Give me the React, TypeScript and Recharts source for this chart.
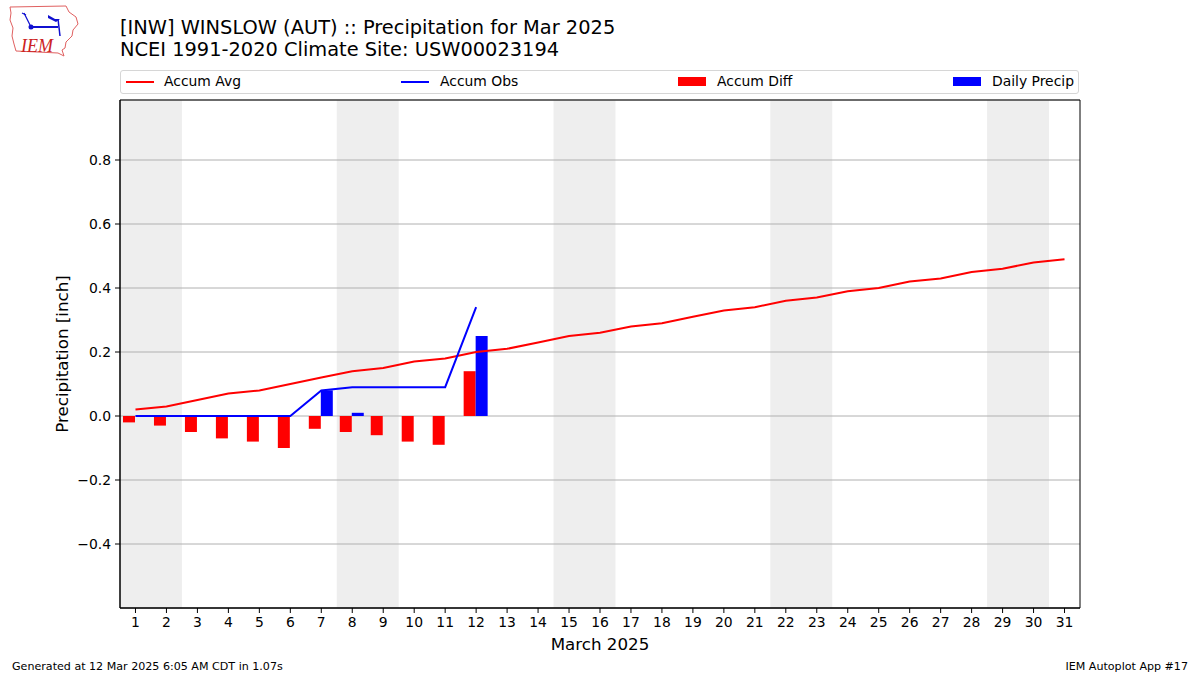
import React from 'react';
import { ComposedChart, Bar, Line, XAxis, YAxis, CartesianGrid, ReferenceArea } from 'recharts';

// days of March 2025
const days = [1, 2, 3, 4, 5, 6, 7, 8, 9, 10, 11, 12, 13, 14, 15, 16, 17, 18, 19, 20, 21, 22, 23, 24, 25, 26, 27, 28, 29, 30, 31];
// climatology accumulated average (inch)
const accumAvg = [0.02, 0.03, 0.05, 0.07, 0.08, 0.10, 0.12, 0.14, 0.15, 0.17, 0.18, 0.20, 0.21, 0.23, 0.25, 0.26, 0.28, 0.29, 0.31, 0.33, 0.34, 0.36, 0.37, 0.39, 0.40, 0.42, 0.43, 0.45, 0.46, 0.48, 0.49];
// observed so far (through the 12th)
const accumObs = [0, 0, 0, 0, 0, 0, 0.08, 0.09, 0.09, 0.09, 0.09, 0.34];
const accumDiff = [-0.02, -0.03, -0.05, -0.07, -0.08, -0.10, -0.04, -0.05, -0.06, -0.08, -0.09, 0.14];
const dailyPrecip = [0, 0, 0, 0, 0, 0, 0.08, 0.01, 0, 0, 0, 0.25];
// weekend shading (Sat/Sun)
const weekends = [[1, 2], [8, 9], [15, 16], [22, 23], [29, 30]];
const yTicks = [-0.4, -0.2, 0, 0.2, 0.4, 0.6, 0.8];
const yDomain = [-0.6, 0.9875];

const rows = days.map((d, i) => ({
  day: String(d),
  avg: accumAvg[i],
  obs: i < accumObs.length ? accumObs[i] : null,
  diff: i < accumDiff.length ? accumDiff[i] : null,
  precip: i < dailyPrecip.length ? dailyPrecip[i] : null,
}));

const FONT = '"DejaVu Sans", sans-serif';
const fmt = (v: number) => v.toFixed(1).replace('-', '\u2212');

function Logo() {
  return (
    <svg width={80} height={60} style={{ position: 'absolute', left: 0, top: 0 }}>
      <path
        d="M10 7 L66 6 L69 12 L76 17 L78 24 L73 30 L72 36 L66 42 L65 48 L62 50 L64 56 L58 53 L16 51 L14 44 L12 36 L13 28 L10 20 L11 13 Z"
        fill="none" stroke="#e06060" strokeWidth={1} />
      <line x1={30} y1={27} x2={58} y2={27} stroke="#1010d0" strokeWidth={2} />
      <circle cx={31} cy={27} r={2.5} fill="#1010d0" />
      <path d="M48 15 L55 19 L60 19 L56 22 L48 18 Z" fill="#1010d0" />
      <line x1={58} y1={19} x2={60} y2={36} stroke="#1010d0" strokeWidth={1.5} />
      <line x1={24} y1={13} x2={30} y2={25} stroke="#1010d0" strokeWidth={1.2} />
      <line x1={22} y1={13} x2={26} y2={15} stroke="#1010d0" strokeWidth={1.2} />
      <text x={21} y={52} fill="#cc2222" fontFamily="Liberation Serif, serif" fontStyle="italic" fontSize={18}>IEM</text>
    </svg>
  );
}

function LegendBox() {
  const txt: React.CSSProperties = { position: 'absolute', top: 73, fontSize: 13.9, lineHeight: '17px', color: '#000' };
  return (
    <>
      <div style={{ position: 'absolute', left: 120, top: 70, width: 959, height: 24, border: '1px solid #d6d6d6', borderRadius: 3, boxSizing: 'border-box', background: '#fff' }} />
      <div style={{ position: 'absolute', left: 126, top: 81, width: 28, height: 2, background: '#ff0000' }} />
      <div style={{ ...txt, left: 164 }}>Accum Avg</div>
      <div style={{ position: 'absolute', left: 401, top: 81, width: 28, height: 2, background: '#0000ff' }} />
      <div style={{ ...txt, left: 440 }}>Accum Obs</div>
      <div style={{ position: 'absolute', left: 678, top: 77, width: 28, height: 9, background: '#ff0000' }} />
      <div style={{ ...txt, left: 717 }}>Accum Diff</div>
      <div style={{ position: 'absolute', left: 953, top: 77, width: 28, height: 9, background: '#0000ff' }} />
      <div style={{ ...txt, left: 992 }}>Daily Precip</div>
    </>
  );
}

export default function App() {
  return (
    <div style={{ position: 'absolute', left: 0, top: 0, width: 1200, height: 675, background: '#fff', fontFamily: FONT, overflow: 'hidden' }}>
      <ComposedChart
        width={1200}
        height={675}
        data={rows}
        margin={{ top: 100, right: 120, bottom: 0, left: 60 }}
        barGap={0}
        style={{ position: 'absolute', left: 0, top: 0 }}
      >
        {weekends.map(([a, b]) => (
          <ReferenceArea key={a} x1={String(a)} x2={String(b)} fill="#eeeeee" fillOpacity={1} stroke="none" zIndex={-200} />
        ))}
        <CartesianGrid vertical={false} stroke="#b0b0b0" strokeWidth={1} />
        <XAxis
          dataKey="day"
          height={67}
          interval={0}
          tickSize={5}
          tickMargin={4}
          stroke="#000"
          tick={{ fill: '#000', fontSize: 13.9, fontFamily: FONT }}
          tickLine={{ stroke: '#000' }}
        />
        <YAxis
          width={60}
          type="number"
          domain={yDomain}
          ticks={yTicks}
          tickFormatter={fmt}
          tickSize={5}
          tickMargin={4}
          stroke="#000"
          tick={{ fill: '#000', fontSize: 13.9, fontFamily: FONT }}
          tickLine={{ stroke: '#000' }}
          allowDataOverflow
        />
        <Bar dataKey="diff" fill="#ff0000" barSize={12} isAnimationActive={false} />
        <Bar dataKey="precip" fill="#0000ff" barSize={12} isAnimationActive={false} />
        <Line dataKey="avg" stroke="#ff0000" strokeWidth={2} dot={false} isAnimationActive={false} />
        <Line dataKey="obs" stroke="#0000ff" strokeWidth={2} dot={false} isAnimationActive={false} />
        <ReferenceArea x1="1" x2="31" y1={yDomain[0]} y2={yDomain[1]} fill="none" fillOpacity={0} stroke="#000" strokeWidth={1} />
      </ComposedChart>

      <Logo />
      <div style={{ position: 'absolute', left: 120, top: 17, fontSize: 19.4, lineHeight: '22px', whiteSpace: 'nowrap' }}>
        [INW] WINSLOW (AUT) :: Precipitation for Mar 2025
      </div>
      <div style={{ position: 'absolute', left: 120, top: 39, fontSize: 19.4, lineHeight: '22px', whiteSpace: 'nowrap' }}>
        NCEI 1991-2020 Climate Site: USW00023194
      </div>
      <LegendBox />
      <div style={{ position: 'absolute', left: 62, top: 354, fontSize: 16.7, whiteSpace: 'nowrap', transform: 'translate(-50%, -50%) rotate(-90deg)' }}>
        Precipitation [inch]
      </div>
      <div style={{ position: 'absolute', left: 600, top: 644, fontSize: 16.7, whiteSpace: 'nowrap', transform: 'translate(-50%, -50%)' }}>
        March 2025
      </div>
      <div style={{ position: 'absolute', left: 12, top: 666, fontSize: 11.1, whiteSpace: 'nowrap', transform: 'translateY(-50%)' }}>
        Generated at 12 Mar 2025 6:05 AM CDT in 1.07s
      </div>
      <div style={{ position: 'absolute', right: 12, top: 666, fontSize: 11.1, whiteSpace: 'nowrap', transform: 'translateY(-50%)' }}>
        IEM Autoplot App #17
      </div>
    </div>
  );
}
